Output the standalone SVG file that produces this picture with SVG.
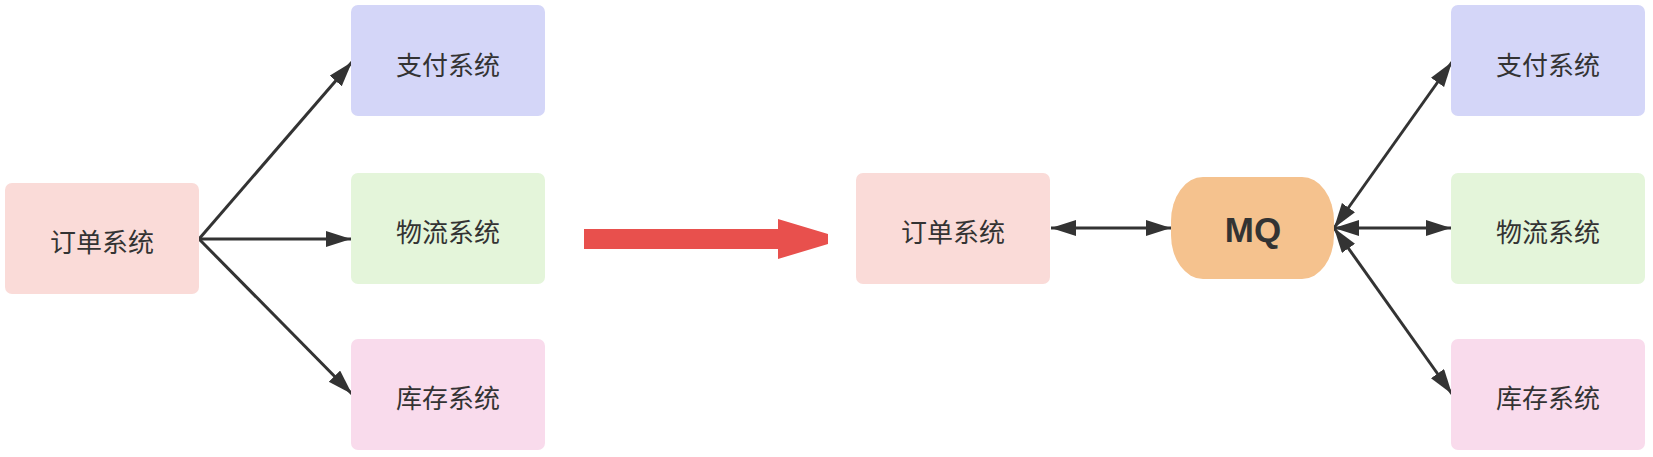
<svg xmlns="http://www.w3.org/2000/svg" width="1653" height="457" viewBox="0 0 1653 457">
<style>
.box{stroke:none}
.order{fill:#fadbd8}
.pay{fill:#d4d6f8}
.log{fill:#e4f5da}
.inv{fill:#f9dbec}
.mq{fill:#f5c28e}
.lbl{font-family:"Noto Sans CJK SC","Noto Sans",sans-serif;font-size:26px;fill:#333;text-anchor:middle;dominant-baseline:central}
.mqt{font-family:"Liberation Sans",Arial,sans-serif;font-size:35px;font-weight:bold;fill:#333;text-anchor:middle}
.c{stroke:#333;stroke-width:3;fill:none}
.one{marker-end:url(#ah)}
.two{marker-end:url(#ah);marker-start:url(#ahs)}
</style>
<defs>
<marker id="ah" markerUnits="userSpaceOnUse" markerWidth="26" markerHeight="17" refX="25" refY="8" orient="auto" viewBox="0 0 26 17">
<path d="M0,0 L25,8 L0,16 z" fill="#333"/>
</marker>
<marker id="ahs" markerUnits="userSpaceOnUse" markerWidth="26" markerHeight="17" refX="25" refY="8" orient="auto-start-reverse" viewBox="0 0 26 17">
<path d="M0,0 L25,8 L0,16 z" fill="#333"/>
</marker>
</defs>
<rect width="1653" height="457" fill="#fff"/>
<g id="connectors">
<line class="c one" x1="199" y1="239" x2="352" y2="62"/>
<line class="c one" x1="199" y1="239" x2="351" y2="239"/>
<line class="c one" x1="199" y1="239" x2="352" y2="394"/>
<line class="c two" x1="1051" y1="228" x2="1171" y2="228"/>
<line class="c two" x1="1334" y1="228" x2="1452" y2="62"/>
<line class="c two" x1="1334" y1="228" x2="1451" y2="228"/>
<line class="c two" x1="1334" y1="228" x2="1452" y2="394"/>
</g>
<g id="big-arrow">
<polygon points="584,229 778,229 778,219 828,234 828,244 778,259 778,249 584,249" fill="#e8504d"/>
</g>
<g id="order-left">
<rect class="box order" x="5" y="183" width="194" height="111" rx="7"/>
<text class="lbl" x="102" y="240">订单系统</text>
</g>
<g id="pay-left">
<rect class="box pay" x="351" y="5" width="194" height="111" rx="7"/>
<text class="lbl" x="448" y="63">支付系统</text>
</g>
<g id="logistics-left">
<rect class="box log" x="351" y="173" width="194" height="111" rx="7"/>
<text class="lbl" x="448" y="230">物流系统</text>
</g>
<g id="inventory-left">
<rect class="box inv" x="351" y="339" width="194" height="111" rx="7"/>
<text class="lbl" x="448" y="396">库存系统</text>
</g>
<g id="order-center">
<rect class="box order" x="856" y="173" width="194" height="111" rx="7"/>
<text class="lbl" x="953" y="230">订单系统</text>
</g>
<g id="mq">
<rect class="box mq" x="1171" y="177" width="163" height="102" rx="32" ry="44"/>
<text class="mqt" x="1253" y="242">MQ</text>
</g>
<g id="pay-right">
<rect class="box pay" x="1451" y="5" width="194" height="111" rx="7"/>
<text class="lbl" x="1548" y="63">支付系统</text>
</g>
<g id="logistics-right">
<rect class="box log" x="1451" y="173" width="194" height="111" rx="7"/>
<text class="lbl" x="1548" y="230">物流系统</text>
</g>
<g id="inventory-right">
<rect class="box inv" x="1451" y="339" width="194" height="111" rx="7"/>
<text class="lbl" x="1548" y="396">库存系统</text>
</g>
</svg>
